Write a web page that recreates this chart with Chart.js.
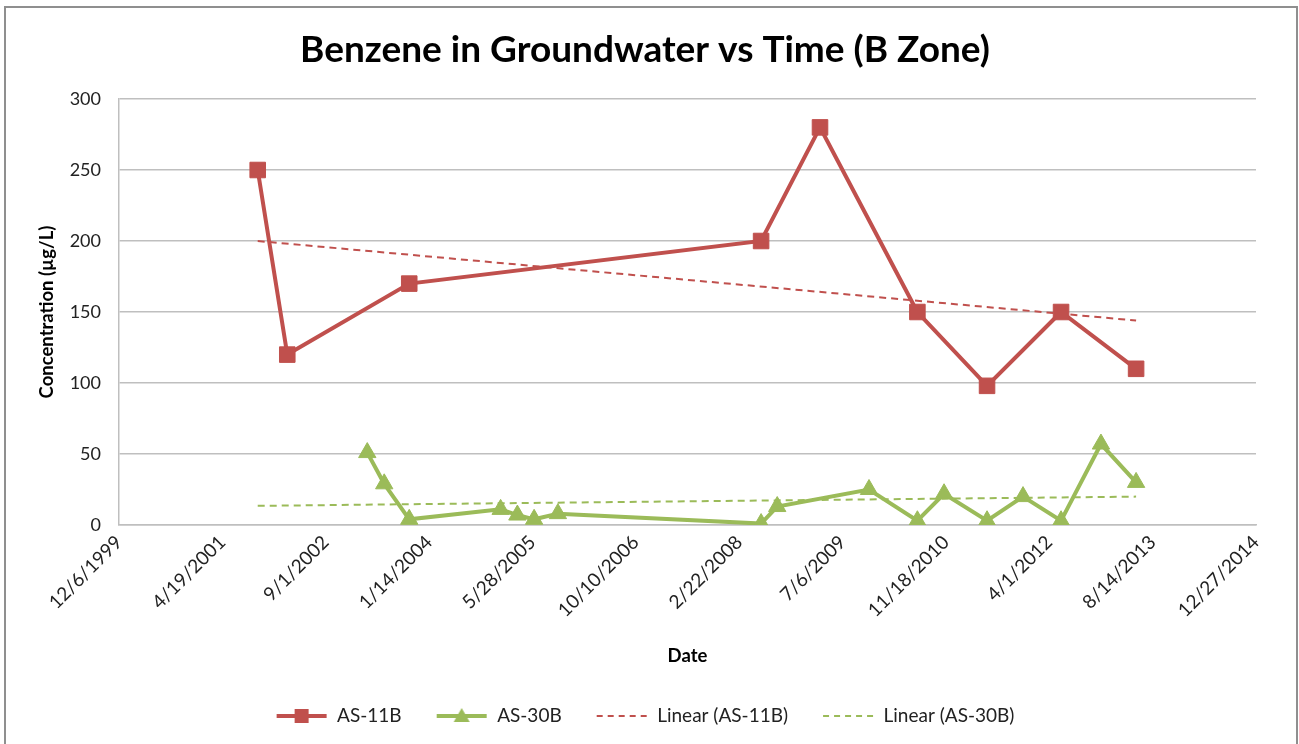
<!DOCTYPE html>
<html><head><meta charset="utf-8">
<script src="https://cdn.jsdelivr.net/npm/chart.js@4.4.1/dist/chart.umd.min.js"></script>
<style>html,body{margin:0;padding:0;background:#fff;}#wrap{width:1299px;height:744px;position:relative;}</style>
</head><body><div id="wrap"><canvas id="c" width="1299" height="744"></canvas></div>
<script>
// ---- data ----
const as11Dates = ['2001-10-07','2002-02-27','2003-10-10','2008-06-07','2009-03-19','2010-07-03','2011-06-05','2012-05-28','2013-05-26'];
const as11Values = [250,120,170,200,280,150,98,150,110];
const as30Dates = ['2003-03-21','2003-06-11','2003-10-10','2004-12-25','2005-03-16','2005-06-05','2005-09-28','2008-06-07','2008-08-24','2009-11-11','2010-07-03','2010-11-09','2011-06-05','2011-11-26','2012-05-28','2012-12-07','2013-05-26'];
const as30Values = [51,29,4,11,7,4,8,1,13,25,3,22,3,20,3,57,30];
const trend11Dates = ['2001-10-07','2013-05-26'];
const trend11Values = [200,144];
const trend30Dates = ['2001-10-07','2013-05-26'];
const trend30Values = [13.5,20];
const xAxisStart = '1999-12-06';
const xAxisEnd = '2014-12-27';
const xStepDays = 500;
const yMin = 0, yMax = 300, yStep = 50;
const seriesNames = ['AS-11B','AS-30B','Linear (AS-11B)','Linear (AS-30B)'];

const RED = '#C0504D', GREEN = '#9BBB59';
const FONT = 'Lato, "Open Sans", sans-serif';

function toDay(s){ const p=s.split('-').map(Number); return Date.UTC(p[0],p[1]-1,p[2])/86400000; }
function fmtDay(d){ const dt=new Date(Math.round(d)*86400000); return (dt.getUTCMonth()+1)+'/'+dt.getUTCDate()+'/'+dt.getUTCFullYear(); }
function pts(ds, vs){ return ds.map((d,i)=>({x:toDay(d), y:vs[i]})); }

function makeIcon(color, marker, dashed){
  const c=document.createElement('canvas'); c.width=52; c.height=20;
  const g=c.getContext('2d');
  g.strokeStyle=color; g.fillStyle=color;
  if(dashed){ g.lineWidth=2; g.setLineDash([6,5]); g.beginPath(); g.moveTo(1,10); g.lineTo(51,10); g.stroke(); }
  else {
    g.lineWidth=4; g.beginPath(); g.moveTo(1,10); g.lineTo(51,10); g.stroke();
    if(marker==='rect'){ g.fillRect(19,3,14,14); }
    else { g.beginPath(); g.moveTo(26,2); g.lineTo(34,16); g.lineTo(18,16); g.closePath(); g.fill(); }
  }
  return c;
}
const icons=[makeIcon(RED,'rect',false), makeIcon(GREEN,'tri',false), makeIcon(RED,null,true), makeIcon(GREEN,null,true)];

const framePlugin = {
  id:'frame',
  beforeDraw(chart){ const g=chart.ctx; g.save(); g.fillStyle='#fff'; g.fillRect(0,0,chart.width,chart.height); g.restore(); },
  afterDraw(chart){ const g=chart.ctx; g.save(); g.strokeStyle='#8f8f8f'; g.lineWidth=2; g.strokeRect(5,7,1292,800); g.restore(); }
};

new Chart(document.getElementById('c'), {
  type:'line',
  data:{ datasets:[
    {label:seriesNames[0], data:pts(as11Dates,as11Values), borderColor:RED, backgroundColor:RED, borderWidth:4, pointStyle:'rect', pointRadius:11, pointBorderWidth:1, pointBorderColor:RED, pointBackgroundColor:RED, tension:0},
    {label:seriesNames[1], data:pts(as30Dates,as30Values), borderColor:GREEN, backgroundColor:GREEN, borderWidth:4, pointStyle:'triangle', pointRadius:10, pointBorderWidth:1, pointBorderColor:GREEN, pointBackgroundColor:GREEN, tension:0},
    {label:seriesNames[2], data:pts(trend11Dates,trend11Values), borderColor:RED, borderWidth:2, borderDash:[7,5], pointRadius:0, tension:0},
    {label:seriesNames[3], data:pts(trend30Dates,trend30Values), borderColor:GREEN, borderWidth:2, borderDash:[7,5], pointRadius:0, tension:0}
  ]},
  options:{
    responsive:false, animation:false, devicePixelRatio:1,
    layout:{padding:{left:34, right:43, top:0, bottom:8.5}},
    plugins:{
      tooltip:{enabled:false},
      title:{display:true, text:'Benzene in Groundwater vs Time (B Zone)', color:'#000', font:{family:FONT, size:37, weight:'bold'}, padding:{top:27.8, bottom:26.8}},
      legend:{position:'bottom', labels:{
        font:{family:FONT, size:19}, color:'#222', padding:34, usePointStyle:true, pointStyleWidth:52, boxHeight:16,
        generateLabels(chart){
          const items=Chart.defaults.plugins.legend.labels.generateLabels(chart);
          items.forEach((it)=>{ it.pointStyle=icons[it.datasetIndex]; it.lineWidth=0; });
          return items;
        }
      }}
    },
    scales:{
      x:{type:'linear', min:toDay(xAxisStart), max:toDay(xAxisEnd),
        afterFit(s){ s.height=147.5; },
        grid:{display:false, drawTicks:false},
        border:{display:true, color:'#BFBFBF', width:1.5},
        ticks:{stepSize:xStepDays, autoSkip:false, maxTicksLimit:30, minRotation:45, maxRotation:45, padding:6, color:'#222', font:{family:FONT, size:19}, callback:(v)=>fmtDay(v)},
        title:{display:true, text:'Date', color:'#000', font:{family:FONT, size:18.5, weight:'bold'}, padding:{top:0,bottom:5.4}}
      },
      y:{min:yMin, max:yMax,
        afterFit(s){ s.width=85; },
        grid:{color:'#BFBFBF', lineWidth:1.5, drawTicks:false},
        border:{display:true, color:'#BFBFBF', width:1.5},
        ticks:{stepSize:yStep, padding:18, color:'#222', font:{family:FONT, size:18}},
        title:{display:true, text:'Concentration (µg/L)', color:'#000', font:{family:FONT, size:18.5, weight:'bold'}, padding:{top:2,bottom:0}}
      }
    }
  },
  plugins:[framePlugin]
});
</script></body></html>
